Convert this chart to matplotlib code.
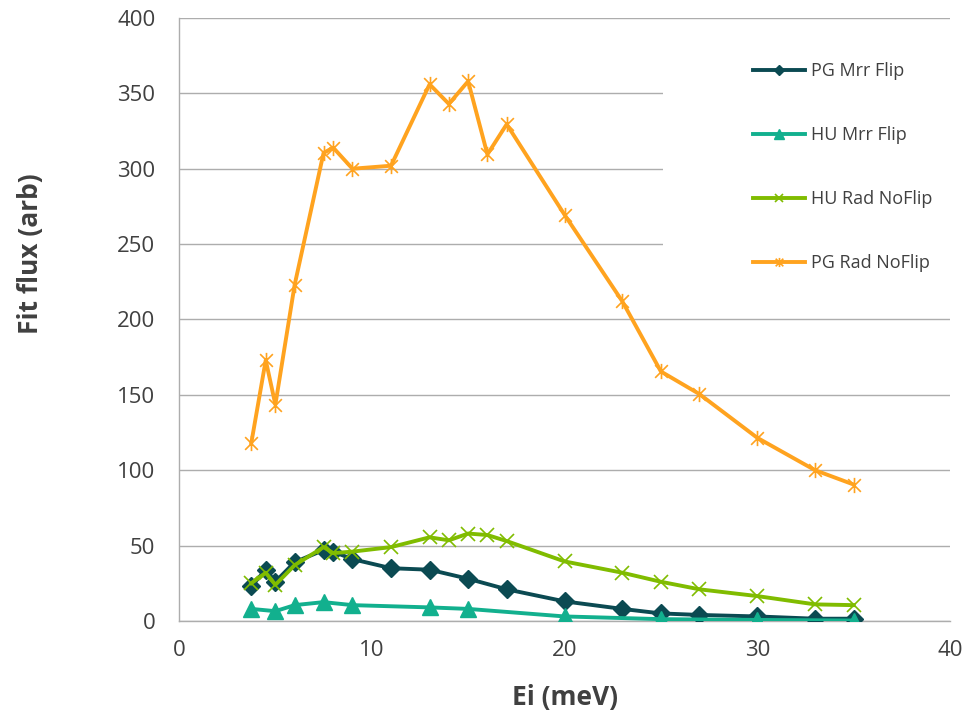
import matplotlib
matplotlib.use('Agg')
import matplotlib.pyplot as plt
from matplotlib.path import Path
from matplotlib.patches import Rectangle

plt.rcParams['font.family'] = ['Open Sans', 'DejaVu Sans']

# data
ei_pg_mrr = [3.75, 4.5, 5, 6, 7.5, 8, 9, 11, 13, 15, 17, 20, 23, 25, 27, 30, 33, 35]
pg_mrr = [23, 34, 26, 39, 47, 46, 41, 35, 34, 28, 21, 13, 8, 5, 4, 3, 1.5, 1.5]

ei_hu_mrr = [3.75, 5, 6, 7.5, 9, 13, 15, 20, 25, 30, 35]
hu_mrr = [8, 6.5, 10.5, 12.5, 10.5, 9, 8, 3, 1.2, 0.7, 0.3]

ei_rad = [3.75, 4.5, 5, 6, 7.5, 8, 9, 11, 13, 14, 15, 16, 17, 20, 23, 25, 27, 30, 33, 35]
hu_rad = [25, 32, 24, 37, 49, 45, 46, 49, 55.5, 53.5, 58, 57, 53, 39.5, 32, 26, 21, 16.5, 11, 10.5]
pg_rad = [118, 173, 143.5, 223, 310.5, 314, 300, 302, 356, 343, 358, 309.5, 329.5,
          269.5, 212, 165.5, 150.5, 121.5, 100, 90.5]

labels = ['PG Mrr Flip', 'HU Mrr Flip', 'HU Rad NoFlip', 'PG Rad NoFlip']
colors = ['#0B4A52', '#12B08E', '#80BC00', '#FFA31F']

# Excel-style star marker: x with a vertical bar
star = Path([(-1, -1), (1, 1), (-1, 1), (1, -1), (0, -1.2), (0, 1.2)],
            [Path.MOVETO, Path.LINETO, Path.MOVETO, Path.LINETO, Path.MOVETO, Path.LINETO])

fig = plt.figure(figsize=(9.76, 7.14), dpi=100)
ax = fig.add_axes([0.1834, 0.1303, 0.79, 0.8445])

ax.plot(ei_pg_mrr, pg_mrr, color=colors[0], lw=2.8, marker='D', ms=9,
        label=labels[0], zorder=3)
ax.plot(ei_hu_mrr, hu_mrr, color=colors[1], lw=2.8, marker='^', ms=11,
        label=labels[1], zorder=4)
ax.plot(ei_rad, hu_rad, color=colors[2], lw=2.8, marker='x', ms=10, mew=1.2,
        label=labels[2], zorder=5)
ax.plot(ei_rad, pg_rad, color=colors[3], lw=2.8, marker=star, ms=11, mew=1.2,
        label=labels[3], zorder=6)

ax.set_xlim(0, 40)
ax.set_ylim(0, 400)
ax.set_xticks(range(0, 41, 10))
ax.set_yticks(range(0, 401, 50))
ax.grid(True, axis='y', color='#ADADAD', lw=1)
ax.set_axisbelow(True)
for s in ['top', 'right']:
    ax.spines[s].set_visible(False)
for s in ['left', 'bottom']:
    ax.spines[s].set_color('#ADADAD')
    ax.spines[s].set_linewidth(1)
ax.tick_params(axis='both', length=0, labelsize=16, labelcolor='#404040')
ax.tick_params(axis='x', pad=14)
ax.tick_params(axis='y', pad=17)

# white legend background hides the gridlines behind it
ax.add_patch(Rectangle((0.628, 0.55), 0.38, 0.42, transform=ax.transAxes,
                       facecolor='white', edgecolor='none', zorder=1, clip_on=False))

ax.set_xlabel('Ei (meV)', fontsize=19, fontweight='bold', color='#404040', labelpad=16)
ax.set_ylabel('Fit flux (arb)', fontsize=19, fontweight='bold', color='#404040')
ax.yaxis.set_label_coords(-0.175, 0.609)

leg = ax.legend(loc='upper left', bbox_to_anchor=(744 / 976, 1 - 53 / 714),
                bbox_transform=fig.transFigure, frameon=False, fontsize=13,
                handlelength=2.9, handletextpad=0.3, labelspacing=2.55,
                borderpad=0, markerscale=0.6)
for t in leg.get_texts():
    t.set_color('#404040')

fig.savefig('out.png', dpi=100, facecolor='white')
